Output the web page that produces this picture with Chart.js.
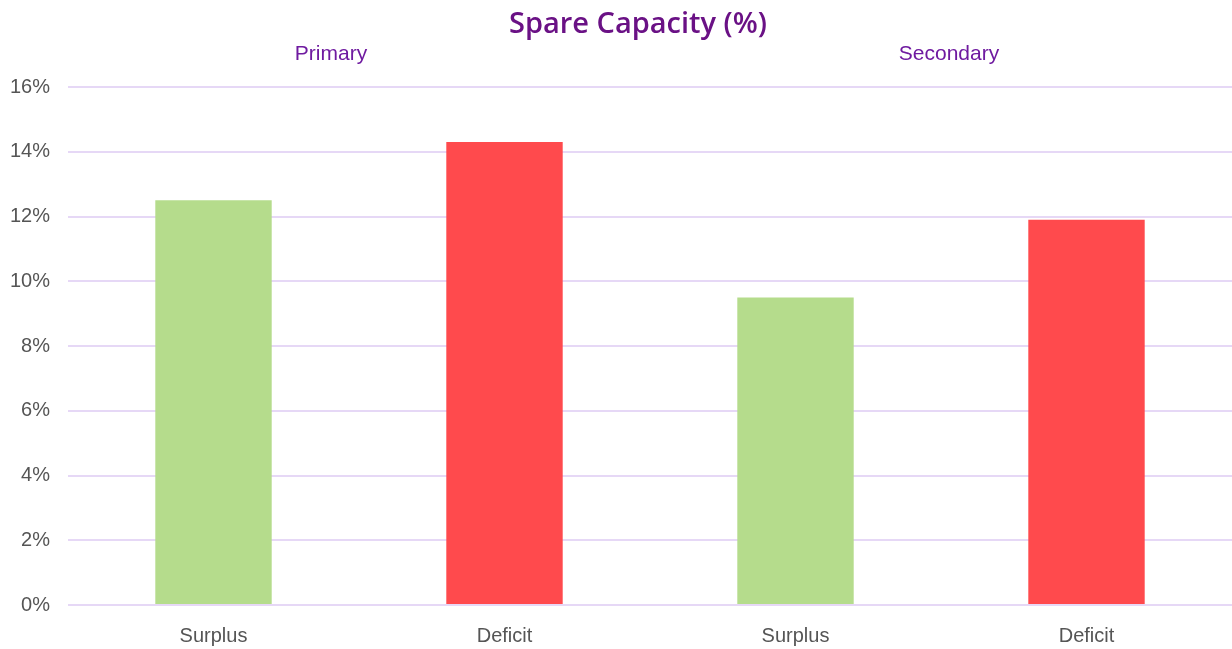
<!DOCTYPE html>
<html>
<head>
<meta charset="utf-8">
<script src="https://cdn.jsdelivr.net/npm/chart.js@4/dist/chart.umd.min.js"></script>
<style>
  html, body { margin: 0; padding: 0; background: #ffffff; }
  #wrap { width: 1232px; height: 649px; }
</style>
</head>
<body>
<div id="wrap"><canvas id="chart" width="1232" height="649"></canvas></div>
<script>
// ================================
// Chart data
// ================================
const categories = ["Surplus", "Deficit", "Surplus", "Deficit"];
const spareCapacity = [12.5, 14.3, 9.5, 11.9];
const barColours = ["#b5dc8c", "#ff4a4d", "#b5dc8c", "#ff4a4d"];
const groupLabels = ["Primary", "Secondary"];
const titleText = "Spare Capacity (%)";

// ========================================================
// Plugin: title and the Primary / Secondary group headings
// ========================================================
const headingPlugin = {
    id: "headings",
    afterDraw(chart) {
        const ctx = chart.ctx;
        const x = chart.scales.x;
        ctx.save();
        ctx.textAlign = "center";
        ctx.textBaseline = "middle";

        // main title
        ctx.fillStyle = "#6a1185";
        ctx.font = "600 29px 'Open Sans'";
        ctx.fillText(titleText, 638, 25);

        // group headings sit over each pair of bars
        ctx.fillStyle = "#6f1aa0";
        ctx.font = "21px 'Liberation Sans', Arial";
        const shift = [-28, 8];
        groupLabels.forEach((g, i) => {
            const mid = (x.getPixelForValue(i * 2) + x.getPixelForValue(i * 2 + 1)) / 2;
            ctx.fillText(g, mid + shift[i], 54);
        });
        ctx.restore();
    }
};

// ===================================
// Draw chart
// ===================================
const chart = new Chart(document.getElementById("chart"), {
    type: "bar",
    data: {
        labels: categories,
        datasets: [{
            data: spareCapacity,
            backgroundColor: barColours,
            borderWidth: 0,
            barPercentage: 0.4,
            categoryPercentage: 1.0
        }]
    },
    options: {
        responsive: false,
        animation: false,
        devicePixelRatio: 1,
        layout: { padding: { top: 87, left: 10, right: 0, bottom: 3 } },
        plugins: {
            legend: { display: false },
            title: { display: false },
            tooltip: { enabled: false }
        },
        scales: {
            x: {
                grid: { display: false, drawTicks: false },
                border: { display: false },
                ticks: {
                    color: "#555555",
                    font: { family: "'Liberation Sans', Arial", size: 20 },
                    padding: 19
                },
                afterFit: s => { s.height = 41; }
            },
            y: {
                min: 0,
                max: 16,
                grid: { color: "#e6d8f6", lineWidth: 2, drawTicks: false },
                border: { display: false },
                ticks: {
                    stepSize: 2,
                    color: "#555555",
                    font: { family: "'Liberation Sans', Arial", size: 20 },
                    padding: 18,
                    callback: v => v + "%"
                },
                afterFit: s => { s.width = 58; }
            }
        }
    },
    plugins: [headingPlugin]
});
</script>
</body>
</html>
